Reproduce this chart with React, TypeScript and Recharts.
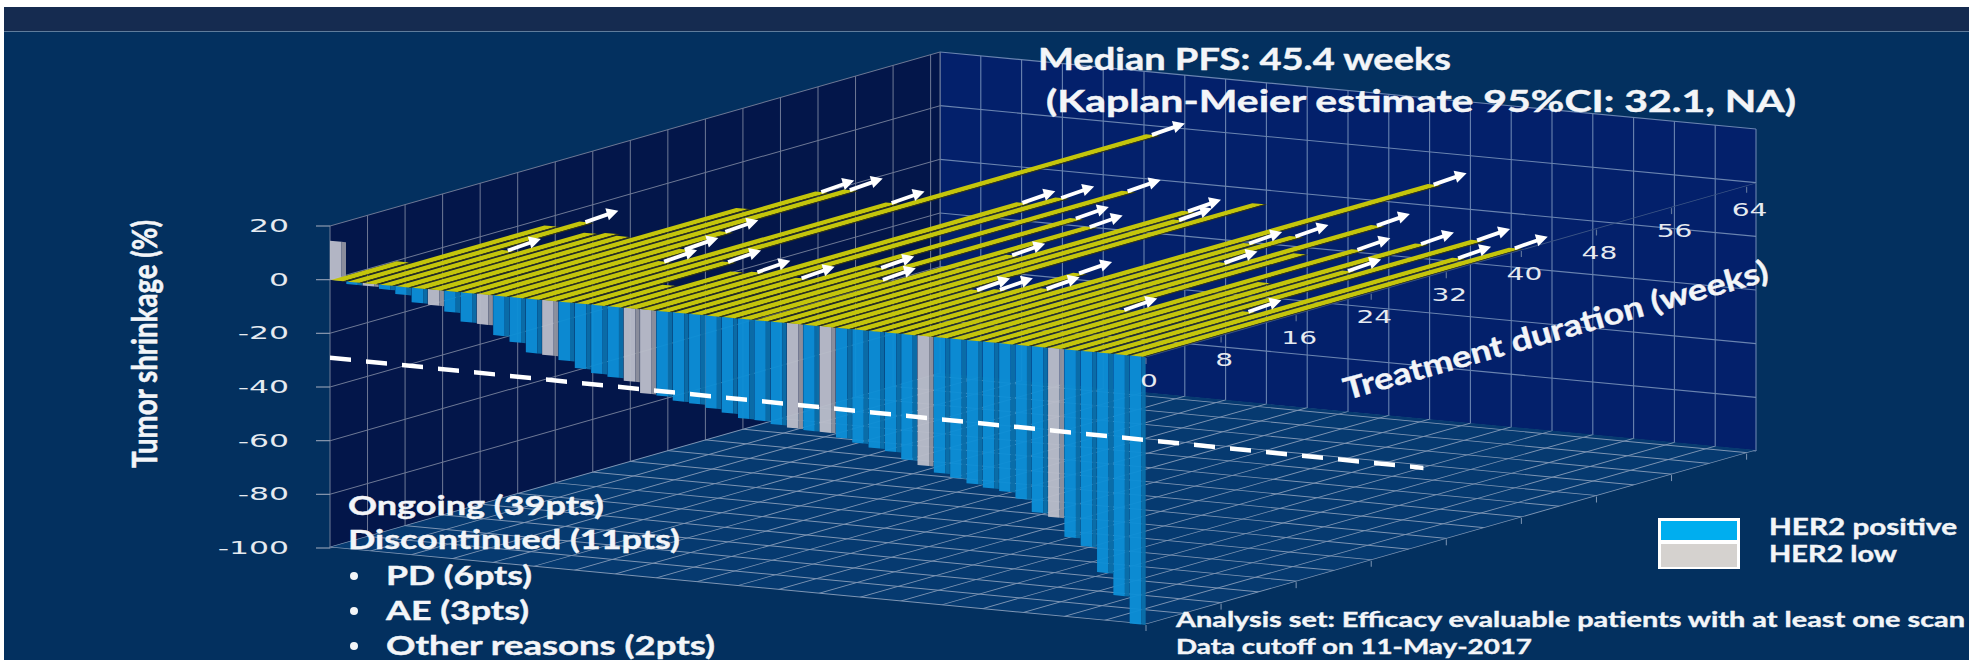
import React from 'react'
import {
  Bar,
  BarChart,
  CartesianGrid,
  ComposedChart,
  LabelList,
  Line,
  XAxis,
  YAxis,
} from 'recharts'

// tumor shrinkage per patient, best response, sorted
const shrinkage = [
  14.5, -1, -1, -1.7, -3, -5.5, -5.9, -7.8, -11, -11.3,
  -14.9, -16.8, -20.2, -20.5, -21.9, -24.3, -25.6, -26.4, -27.3, -31.3,
  -31.7, -33, -33.4, -34.5, -35.7, -37.2, -37.4, -38.3, -39, -39.4,
  -39.5, -41, -42.3, -43.6, -44.3, -46.8, -48.4, -50.6, -51.9, -53.5,
  -54.5, -55.2, -57.4, -61.9, -63.1, -70, -72.8, -82, -90, -100,
]
// treatment duration in weeks, same patient order
const durationWeeks = [
  7, 21, 23, 13, 20, 20.5, 20, 31, 37.7, 39,
  24, 18, 14, 36.5, 62.5, 15.6, 7.5, 13, 13.5, 40,
  42.4, 13, 46, 18, 37, 14.7, 35, 25, 42, 39.3,
  46, 14.3, 15, 21.7, 16.5, 56, 34.6, 37.8, 28.5, 43,
  33, 12.6, 35.7, 24, 39, 29.5, 41.5, 15.4, 36, 40.3,
]
const her2LowPatients = [0, 2, 6, 9, 13, 18, 19, 28, 30, 36, 44]
const discontinuedPatients = [0, 1, 4, 5, 6, 7, 16, 17, 30, 40, 43]

const shrinkageTicks = [20, 0, -20, -40, -60, -80, -100]
const weekTicks = [0, 8, 16, 24, 32, 40, 48, 56, 64]
const weekGridTicks = [0, 4, 8, 12, 16, 20, 24, 28, 32, 36, 40, 44, 48, 52, 56, 60, 64]
const patientGridTicks = [
  0, 2.5, 5, 7.5, 10, 12.5, 15, 17.5, 20, 22.5, 25, 27.5, 30, 32.5, 35, 37.5, 40, 42.5, 45, 47.5, 50,
]
const responseThreshold = [
  { patient: 0, level: -29.1 },
  { patient: 67, level: -31.7 },
]

const rows = shrinkage.map((value, i) => ({
  patient: i,
  shrinkage: value,
  weeks: durationWeeks[i],
  low: her2LowPatients.includes(i),
  ongoing: !discontinuedPatients.includes(i),
}))

const WEEK_MAX = 65
const PATIENT_MAX = 50
// box edges on the page
const DEPTH_W = 610
const WIDTH_W = 816
const LEVEL_H = 322
const depthSlope = -174 / 610
const widthSlope = 77 / 816

// [a, b, c, d] of a css matrix
const floorShear = [1, depthSlope, 1, widthSlope]
const sideWallShear = [1, depthSlope, 0, 1]
const backWallShear = [1, widthSlope, 0, 1]

function invert([a, b, c, d]: number[]) {
  const det = a * d - b * c
  return [d / det, -b / det, -c / det, a / det].join(' ')
}

function Plane({ ox, oy, m, left = 0, top = 0, children }: any) {
  return (
    <div
      style={{
        position: 'absolute',
        left: ox - left,
        top: oy - top,
        transformOrigin: `${left}px ${top}px`,
        transform: `matrix(${m[0]},${m[1]},${m[2]},${m[3]},0,0)`,
      }}
    >
      {children}
    </div>
  )
}

// draws its children unsheared at a point of a sheared chart
function Upright({ x, y, m, children }: any) {
  return <g transform={`translate(${x},${y}) matrix(${invert(m)} 0 0)`}>{children}</g>
}

function ShrinkageTick({ x, y, payload }: any) {
  return (
    <Upright x={x} y={y} m={sideWallShear}>
      <line x1={-14} x2={0} y1={0} y2={0} stroke="#8c9ab0" strokeWidth={1.2} />
      <text
        transform="translate(-41,6) scale(1.85,1)"
        textAnchor="end"
        fontFamily="DejaVu Sans"
        fontSize={17}
        fill="#e6eaf0"
      >
        {payload.value}
      </text>
    </Upright>
  )
}

function WeekTick({ x, y, payload }: any) {
  return (
    <Upright x={x} y={y} m={floorShear}>
      <line x1={0} x2={0} y1={1} y2={7} stroke="#5b7199" strokeWidth={1.2} />
      <text
        transform="translate(3,30) scale(1.65,1)"
        textAnchor="middle"
        fontFamily="DejaVu Sans"
        fontSize={17}
        fill="#e6eaf0"
      >
        {payload.value}
      </text>
    </Upright>
  )
}

function FloorTick({ x, y }: any) {
  return (
    <Upright x={x} y={y} m={floorShear}>
      <line x1={0} x2={0} y1={1} y2={7} stroke="#7f96b4" strokeWidth={1} />
    </Upright>
  )
}

function ShrinkageBar({ x, y, width, height, payload }: any) {
  const top = Math.min(y, y + height)
  const h = Math.abs(height)
  const front = width * 0.72
  return (
    <g fillOpacity={0.96}>
      <rect x={x} y={top} width={front} height={h} fill={payload.low ? '#b9bcc9' : '#0d8fd6'} />
      <rect x={x + front} y={top} width={width - front} height={h} fill={payload.low ? '#90939f' : '#0a6fab'} />
    </g>
  )
}

// top face plus the dark side face toward the viewer
function DurationBar({ x, y, width, height }: any) {
  const top = height * 0.83
  return (
    <g>
      <rect x={x} y={y} width={width} height={top} fill="#c4c50b" />
      <rect x={x} y={y + top} width={width} height={height - top} fill="#3a390c" />
    </g>
  )
}

function OngoingArrow({ x, y, width, height, index }: any) {
  if (!rows[index].ongoing) return null
  return (
    <Upright x={x + width} y={y + height * 0.4} m={floorShear}>
      <line x1={0} y1={0} x2={23} y2={-8} stroke="#ffffff" strokeWidth={3.8} />
      <polygon points="33,-11.5 20,-14 23.5,-2" fill="#ffffff" />
    </Upright>
  )
}

function Caption({ x, y, w, size = 27, children }: any) {
  return (
    <text
      x={x}
      y={y}
      textLength={w}
      lengthAdjust="spacingAndGlyphs"
      fontFamily="Lato"
      fontWeight={700}
      fontSize={size}
      fill="#f3f5f8"
      stroke="#f3f5f8"
      strokeWidth={0.4}
    >
      {children}
    </text>
  )
}

function Backdrop() {
  return (
    <>
      <div style={{ position: 'absolute', left: 4, top: 7, width: 1965, height: 653, background: '#03305f' }} />
      <div
        style={{
          position: 'absolute',
          left: 4,
          top: 7,
          width: 1965,
          height: 24,
          background: '#152b50',
          borderBottom: '1px solid #5f7c9c',
        }}
      />
    </>
  )
}

function BackWall() {
  return (
    <Plane ox={940} oy={52} m={backWallShear}>
      <ComposedChart width={WIDTH_W} height={LEVEL_H} data={rows} margin={{ top: 0, right: 0, bottom: 0, left: 0 }}>
        <XAxis type="number" dataKey="patient" domain={[0, PATIENT_MAX]} ticks={patientGridTicks} hide />
        <YAxis type="number" dataKey="shrinkage" domain={[-100, 20]} ticks={shrinkageTicks} hide />
        <CartesianGrid fill="#03206b" fillOpacity={1} stroke="#6a84b0" strokeWidth={1.1} />
      </ComposedChart>
    </Plane>
  )
}

function SideWall() {
  return (
    <Plane ox={330} oy={226} m={sideWallShear} left={120} top={20}>
      <ComposedChart
        width={DEPTH_W + 120}
        height={LEVEL_H + 40}
        data={rows}
        margin={{ top: 20, right: 0, bottom: 20, left: 0 }}
      >
        <XAxis type="number" dataKey="weeks" domain={[0, WEEK_MAX]} ticks={weekGridTicks} hide />
        <YAxis
          type="number"
          dataKey="shrinkage"
          width={120}
          domain={[-100, 20]}
          ticks={shrinkageTicks}
          interval={0}
          axisLine={false}
          tickLine={false}
          tickSize={0}
          tickMargin={0}
          tick={(p: any) => <ShrinkageTick {...p} />}
        />
        <CartesianGrid fill="#03164a" fillOpacity={1} stroke="#6f7a96" strokeWidth={1} />
      </ComposedChart>
    </Plane>
  )
}

function Floor() {
  return (
    <Plane ox={330} oy={547} m={floorShear}>
      <ComposedChart width={DEPTH_W} height={WIDTH_W + 40} data={rows} margin={{ top: 0, right: 0, bottom: 0, left: 0 }}>
        <XAxis
          type="number"
          dataKey="weeks"
          height={40}
          domain={[0, WEEK_MAX]}
          ticks={weekTicks}
          interval={0}
          axisLine={false}
          tickLine={false}
          tickSize={0}
          tickMargin={0}
          tick={(p: any) => <FloorTick {...p} />}
        />
        <YAxis type="number" dataKey="patient" domain={[0, PATIENT_MAX]} ticks={patientGridTicks} hide />
        <CartesianGrid
          fill="#063a70"
          fillOpacity={1}
          stroke="#7f96b4"
          strokeWidth={2.4}
          verticalValues={weekGridTicks}
        />
      </ComposedChart>
    </Plane>
  )
}

function Waterfall() {
  return (
    <Plane ox={330} oy={226} m={backWallShear}>
      <BarChart
        width={WIDTH_W}
        height={LEVEL_H}
        data={rows}
        barCategoryGap={0}
        margin={{ top: 0, right: 0, bottom: 0, left: 0 }}
      >
        <XAxis dataKey="patient" hide />
        <YAxis type="number" domain={[-100, 20]} hide />
        <Bar dataKey="shrinkage" barSize={16} isAnimationActive={false} shape={(p: any) => <ShrinkageBar {...p} />} />
      </BarChart>
    </Plane>
  )
}

function Durations() {
  return (
    <Plane ox={330} oy={280} m={floorShear}>
      <BarChart
        layout="vertical"
        width={DEPTH_W}
        height={WIDTH_W + 40}
        data={rows}
        barCategoryGap={0}
        margin={{ top: 0, right: 0, bottom: 0, left: 0 }}
      >
        <XAxis
          type="number"
          height={40}
          domain={[0, WEEK_MAX]}
          ticks={weekTicks}
          interval={0}
          stroke="#3d5686"
          strokeWidth={2.4}
          tickLine={false}
          tickSize={0}
          tickMargin={0}
          tick={(p: any) => <WeekTick {...p} />}
        />
        <YAxis type="category" dataKey="patient" hide />
        <Bar dataKey="weeks" barSize={WIDTH_W / PATIENT_MAX} isAnimationActive={false} shape={(p: any) => <DurationBar {...p} />}>
          <LabelList dataKey="weeks" content={(p: any) => <OngoingArrow {...p} />} />
        </Bar>
      </BarChart>
    </Plane>
  )
}

function Threshold() {
  return (
    <Plane ox={330} oy={226} m={backWallShear}>
      <ComposedChart
        width={(WIDTH_W / PATIENT_MAX) * 67}
        height={LEVEL_H}
        data={responseThreshold}
        margin={{ top: 0, right: 0, bottom: 0, left: 0 }}
      >
        <XAxis type="number" dataKey="patient" domain={[0, 67]} hide />
        <YAxis type="number" domain={[-100, 20]} hide />
        <Line
          dataKey="level"
          stroke="#ffffff"
          strokeWidth={4.5}
          strokeDasharray="21 15"
          dot={false}
          isAnimationActive={false}
        />
      </ComposedChart>
    </Plane>
  )
}

function Annotations() {
  return (
    <svg width={1969} height={660} style={{ position: 'absolute', left: 0, top: 0 }}>
      <Caption x={1038} y={70} w={413} size={30}>Median PFS: 45.4 weeks</Caption>
      <Caption x={1046} y={112} w={750} size={30}>(Kaplan-Meier estimate 95%CI: 32.1, NA)</Caption>

      <g transform="translate(157,468) scale(1.4,1) rotate(-90)">
        <Caption x={0} y={0} w={248} size={25}>Tumor shrinkage (%)</Caption>
      </g>
      <g transform="translate(1347,400) rotate(-15.8)">
        <Caption x={0} y={0} w={440} size={30}>Treatment duration (weeks)</Caption>
      </g>

      <Caption x={348} y={515} w={256}>Ongoing (39pts)</Caption>
      <Caption x={348} y={549} w={332}>Discontinued (11pts)</Caption>
      <circle cx={354} cy={576} r={4} fill="#f3f5f8" />
      <Caption x={386} y={585} w={146}>PD (6pts)</Caption>
      <circle cx={354} cy={611} r={4} fill="#f3f5f8" />
      <Caption x={386} y={620} w={143}>AE (3pts)</Caption>
      <circle cx={354} cy={646} r={4} fill="#f3f5f8" />
      <Caption x={386} y={655} w={329}>Other reasons (2pts)</Caption>

      <rect x={1658} y={518} width={82} height={51} fill="#ffffff" />
      <rect x={1661} y={521} width={76} height={19} fill="#00aeef" />
      <rect x={1661} y={544} width={76} height={23} fill="#d5d2cf" />
      <Caption x={1769} y={535} w={188} size={22}>HER2 positive</Caption>
      <Caption x={1769} y={562} w={128} size={22}>HER2 low</Caption>

      <Caption x={1176} y={627} w={789} size={21}>Analysis set: Efficacy evaluable patients with at least one scan</Caption>
      <Caption x={1176} y={654} w={356} size={21}>Data cutoff on 11-May-2017</Caption>
    </svg>
  )
}

export default function App() {
  return (
    <div
      style={{
        position: 'fixed',
        left: 0,
        top: 0,
        width: 1969,
        height: 660,
        overflow: 'hidden',
        background: '#ffffff',
      }}
    >
      <style>{'.recharts-surface{overflow:visible}'}</style>
      <Backdrop />
      <BackWall />
      <SideWall />
      <Floor />
      <Waterfall />
      <Durations />
      <Threshold />
      <Annotations />
    </div>
  )
}
